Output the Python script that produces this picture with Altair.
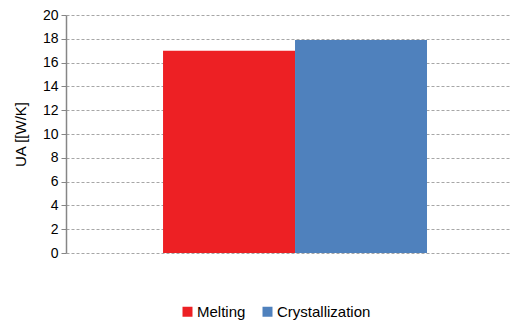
import altair as alt
import pandas as pd

categories = ["UA"]
series = ["Melting", "Crystallization"]
values = [17.0, 17.9]
colors = ["#ED2024", "#4F81BD"]
y_ticks = [0, 2, 4, 6, 8, 10, 12, 14, 16, 18, 20]

df = pd.DataFrame({
    "cat": [categories[0]] * len(series),
    "series": series,
    "value": values,
})

FONT = "Liberation Sans"

chart = alt.Chart(df).mark_bar().encode(
    x=alt.X("cat:N", axis=None,
            scale=alt.Scale(paddingInner=0, paddingOuter=0.341, align=0.539)),
    xOffset=alt.XOffset("series:N", sort=series, scale=alt.Scale(paddingInner=0, paddingOuter=0)),
    y=alt.Y("value:Q", scale=alt.Scale(domain=[0, 20], nice=False),
            axis=alt.Axis(values=y_ticks, title="UA [[W/K]", titleFontSize=15,
                          titleFont=FONT, titleFontWeight="normal", titleColor="#000",
                          titlePadding=14,
                          labelFont=FONT, labelFontSize=14, labelColor="#000",
                          labelPadding=3,
                          domainColor="#868686", domainWidth=1.5,
                          tickColor="#868686", tickSize=5,
                          gridColor="#a6a6a6", gridDash=[3, 2], gridWidth=1)),
    color=alt.Color("series:N", sort=series,
                    scale=alt.Scale(domain=series, range=colors),
                    legend=alt.Legend(orient="none", direction="horizontal",
                                      legendX=114, legendY=289, title=None,
                                      symbolType="square", symbolSize=100,
                                      symbolStrokeWidth=0, columnPadding=14,
                                      labelFont=FONT, labelFontSize=15,
                                      labelColor="#000", labelOffset=2)),
).properties(
    width=444, height=238,
    padding={"left": 66, "top": 15, "right": 2, "bottom": 67},
    autosize=alt.AutoSizeParams(type="none"),
).configure_view(stroke=None).configure_axisX(grid=False)

chart.save("out.html", embed_options={"renderer": "svg", "actions": False})
